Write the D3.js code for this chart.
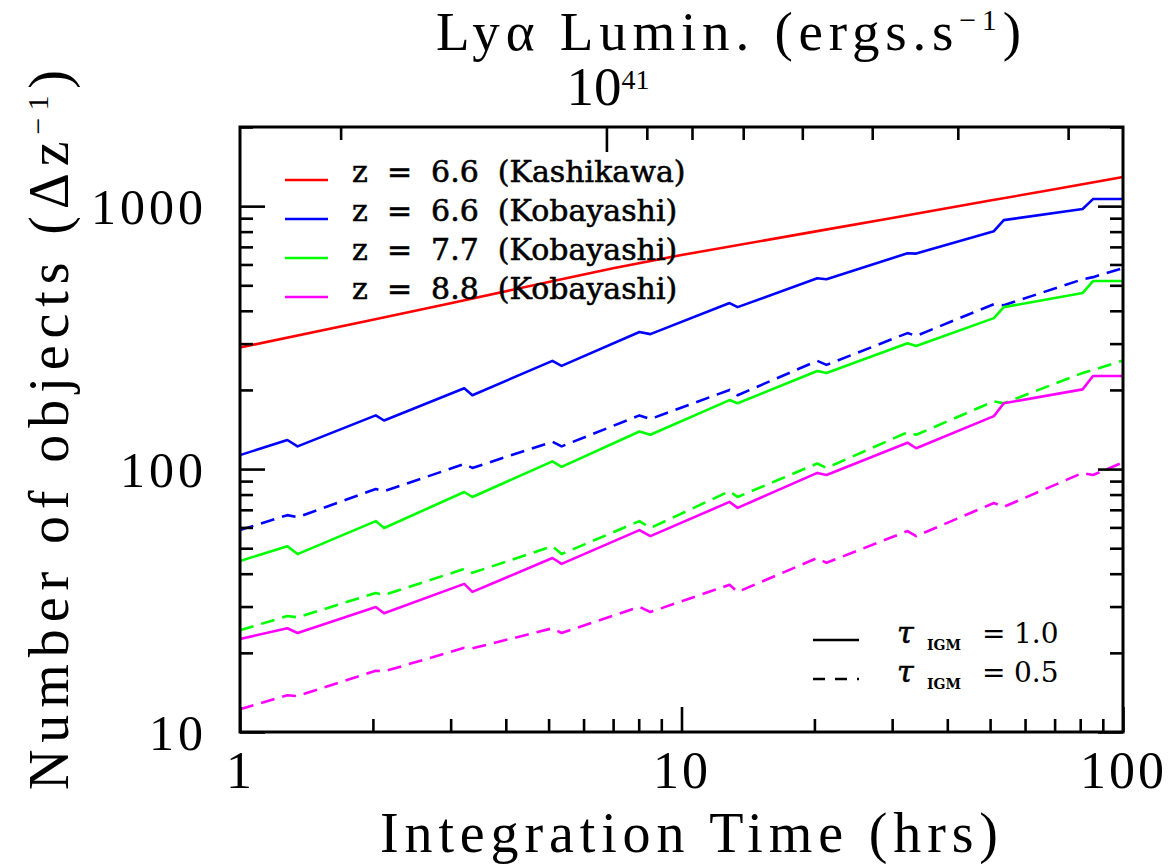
<!DOCTYPE html>
<html>
<head>
<meta charset="utf-8">
<script src="https://cdn.jsdelivr.net/npm/d3@7"></script>
<style>
  body { margin: 0; background: #fff; }
  svg { display: block; }
</style>
</head>
<body>
<svg id="chart" width="1173" height="864"></svg>
<script>
// Integration times (hrs) at which the Kobayashi counts are tabulated
const timeGrid = [1, 1.28, 1.35, 2.03, 2.12, 3.22, 3.36, 5.1, 5.35, 8.03, 8.5,
                  12.85, 13.4, 20.3, 21.3, 32.5, 34, 51, 53.7, 81, 85.5, 100];

// Number of objects per unit redshift, tau_IGM = 1.0 (solid) and 0.5 (dashed)
const kobZ66Tau10 = [113, 129, 122, 160, 153, 203, 191, 258, 247, 332, 326,
                     428, 413, 532, 527, 662, 660, 803, 885, 975, 1064, 1064];
const kobZ66Tau05 = [58.6, 66.8, 65.6, 84, 82.4, 104.5, 101, 127, 122, 160, 155,
                     200, 191, 258, 249, 329, 321, 424, 420, 527, 537, 581];
const kobZ77Tau10 = [44.7, 50.9, 47.5, 63.4, 59.7, 81.8, 78.3, 107, 102, 139, 135,
                     183, 178, 236, 232, 301, 294, 375, 413, 467, 519, 519];
const kobZ77Tau05 = [24.4, 27.6, 27.3, 33.8, 33.2, 41.7, 40.3, 50.9, 47.5, 63.4, 59.7,
                     82.4, 78.3, 105, 101, 138, 135, 181, 178, 232, 238, 259];
const kobZ88Tau10 = [22.6, 24.8, 23.8, 29.9, 28.3, 36.6, 34.1, 45.9, 43.6, 58.6, 55.6,
                     75, 71.2, 96.7, 94.9, 126, 120, 159, 178, 201, 226, 226];
const kobZ88Tau05 = [12.2, 13.8, 13.7, 17.1, 17.0, 20.9, 20.8, 24.8, 23.8, 29.9, 28.6,
                     36.3, 34.1, 45.9, 44, 58.1, 55.6, 74.3, 71.8, 96.7, 94.9, 106];

// Kashikawa z = 6.6 curve
const kashTimes  = [1, 2, 3, 5, 7, 10, 20, 30, 50, 70, 100];
const kashZ66    = [290, 370, 427, 515, 580, 652, 800, 902, 1050, 1159, 1290];

// Legend entries
const legendLabels = ["z  =  6.6  (Kashikawa)", "z  =  6.6  (Kobayashi)",
                      "z  =  7.7  (Kobayashi)", "z  =  8.8  (Kobayashi)"];
const legendColors = ["#ff0000", "#0000ff", "#00ff00", "#ff00ff"];
const tauLabels = ["1.0", "0.5"];

// Axis ticks
const xMajor = [1, 10, 100];
const xMinor = [2, 3, 4, 5, 6, 7, 8, 9, 20, 30, 40, 50, 60, 70, 80, 90];
const yMajor = [10, 100, 1000];
const yMinor = [20, 30, 40, 50, 60, 70, 80, 90, 200, 300, 400, 500, 600, 700, 800, 900, 2000];
const lumDomain = [2.6e41, 2.6e40];
const lumMajor = [1e41];
const lumMinor = [2e41, 9e40, 8e40, 7e40, 6e40, 5e40, 4e40, 3e40];

const svg = d3.select("#chart");
const L = 240, R = 1123, T = 127, B = 732;
const MAJ = 25, MIN = 13;

const x = d3.scaleLog().domain([1, 100]).range([L, R]);
const y = d3.scaleLog().domain([10, 2000]).range([B, T]);
const xLum = d3.scaleLog().domain(lumDomain).range([L, R]);

const serif = "'Liberation Serif', 'Times New Roman', serif";
const legendFont = "'DejaVu Serif', serif";

// ----- data curves -----
const series = [
  { t: kashTimes, v: kashZ66,      color: legendColors[0], dashed: false },
  { t: timeGrid,  v: kobZ66Tau10,  color: legendColors[1], dashed: false },
  { t: timeGrid,  v: kobZ66Tau05,  color: legendColors[1], dashed: true },
  { t: timeGrid,  v: kobZ77Tau10,  color: legendColors[2], dashed: false },
  { t: timeGrid,  v: kobZ77Tau05,  color: legendColors[2], dashed: true },
  { t: timeGrid,  v: kobZ88Tau10,  color: legendColors[3], dashed: false },
  { t: timeGrid,  v: kobZ88Tau05,  color: legendColors[3], dashed: true }
];

const line = d3.line().x(d => x(d[0])).y(d => y(d[1]));
const plot = svg.append("g");
series.forEach(s => {
  plot.append("path")
    .datum(s.t.map((t, i) => [t, s.v[i]]))
    .attr("d", line)
    .attr("fill", "none")
    .attr("stroke", s.color)
    .attr("stroke-width", 2.6)
    .attr("stroke-linejoin", "round")
    .attr("stroke-dasharray", s.dashed ? "14,8" : null);
});

// ----- axes (ticks point inward) -----
function tickStyle(g) {
  g.select(".domain").remove();
  g.selectAll(".tick line").attr("stroke", "#000").attr("stroke-width", 2.6);
}
function noLabels(g) { g.selectAll(".tick text").remove(); }

svg.append("g").attr("transform", `translate(0,${B})`)
  .call(d3.axisBottom(x).tickValues(xMinor).tickSize(-MIN)).call(tickStyle).call(noLabels);
svg.append("g").attr("transform", `translate(0,${B})`)
  .call(d3.axisBottom(x).tickValues(xMajor).tickSize(-MAJ).tickFormat(d3.format("d")))
  .call(tickStyle)
  .call(g => g.selectAll(".tick text")
    .attr("y", 56).attr("dy", null)
    .attr("font-family", serif).attr("font-size", 52)
    .attr("letter-spacing", 3).attr("fill", "#000"));

svg.append("g").attr("transform", `translate(${L},0)`)
  .call(d3.axisLeft(y).tickValues(yMinor).tickSize(-MIN)).call(tickStyle).call(noLabels);
svg.append("g").attr("transform", `translate(${L},0)`)
  .call(d3.axisLeft(y).tickValues(yMajor).tickSize(-MAJ).tickFormat(d3.format("d")))
  .call(tickStyle)
  .call(g => g.selectAll(".tick text")
    .attr("x", -33).attr("dy", "0.35em")
    .attr("font-family", serif).attr("font-size", 50)
    .attr("letter-spacing", 4).attr("fill", "#000"));

svg.append("g").attr("transform", `translate(${R},0)`)
  .call(d3.axisRight(y).tickValues(yMinor).tickSize(-MIN)).call(tickStyle).call(noLabels);
svg.append("g").attr("transform", `translate(${R},0)`)
  .call(d3.axisRight(y).tickValues(yMajor).tickSize(-MAJ)).call(tickStyle).call(noLabels);

svg.append("g").attr("transform", `translate(0,${T})`)
  .call(d3.axisTop(xLum).tickValues(lumMinor).tickSize(-MIN)).call(tickStyle).call(noLabels);
svg.append("g").attr("transform", `translate(0,${T})`)
  .call(d3.axisTop(xLum).tickValues(lumMajor).tickSize(-MAJ)).call(tickStyle).call(noLabels);

// frame
svg.append("rect")
  .attr("x", L).attr("y", T).attr("width", R - L).attr("height", B - T)
  .attr("fill", "none").attr("stroke", "#000").attr("stroke-width", 3);

// helper: spread a label to a given width using letter spacing
function fitWidth(sel, target) {
  const node = sel.node();
  const n = node.getNumberOfChars();
  const w = node.getComputedTextLength();
  if (n > 1) sel.attr("letter-spacing", (target - w) / (n - 1));
}

// ----- top axis label: luminosity -----
const title = svg.append("text")
  .attr("x", 436).attr("y", 50)
  .attr("font-family", serif).attr("font-size", 55).attr("fill", "#000");
title.append("tspan").text("Ly\u03b1 Lumin. (ergs.s");
title.append("tspan").attr("font-size", 30).attr("dy", -20).text("\u22121");
title.append("tspan").attr("dy", 20).text(")");
fitWidth(title, 585);

const lumTick = svg.append("text")
  .attr("x", xLum(lumMajor[0]) - 40).attr("y", 105)
  .attr("font-family", serif).attr("font-size", 55).attr("fill", "#000");
lumTick.append("tspan").text("10");
lumTick.append("tspan").attr("font-size", 28).attr("dy", -16).text("41");

// ----- axis titles -----
const xTitle = svg.append("text")
  .attr("x", 380).attr("y", 852)
  .attr("font-family", serif).attr("font-size", 56).attr("fill", "#000")
  .text("Integration Time (hrs)");
fitWidth(xTitle, 618);

const yTitle = svg.append("text")
  .attr("transform", "translate(68,790) rotate(-90)")
  .attr("font-family", serif).attr("font-size", 56).attr("fill", "#000");
yTitle.append("tspan").text("Number of objects (\u0394z");
yTitle.append("tspan").attr("font-size", 30).attr("dy", -20).text("\u22121");
yTitle.append("tspan").attr("dy", 20).text(")");
fitWidth(yTitle, 720);

// ----- redshift legend -----
const leg = svg.append("g");
legendLabels.forEach((lab, i) => {
  const by = 182 + i * 39;
  leg.append("line")
    .attr("x1", 285).attr("x2", 328).attr("y1", by - 2).attr("y2", by - 2)
    .attr("stroke", legendColors[i]).attr("stroke-width", 2.6);
  leg.append("text")
    .attr("x", 352).attr("y", by)
    .attr("font-family", legendFont).attr("font-size", 30)
    .attr("fill", "#000").attr("stroke", "#000").attr("stroke-width", 0.6)
    .style("white-space", "pre")
    .text(lab);
});

// ----- tau legend -----
const tauG = svg.append("g");
tauLabels.forEach((lab, i) => {
  const by = 643 + i * 39;
  tauG.append("line")
    .attr("x1", 813).attr("x2", 859).attr("y1", by - 3).attr("y2", by - 3)
    .attr("stroke", "#000").attr("stroke-width", 2.4)
    .attr("stroke-dasharray", i === 1 ? "12,10" : null);
  tauG.append("text")
    .attr("x", 897).attr("y", by)
    .attr("font-family", legendFont).attr("font-style", "italic")
    .attr("font-size", 30).attr("fill", "#000")
    .attr("stroke", "#000").attr("stroke-width", 0.6).text("\u03c4");
  tauG.append("text")
    .attr("x", 927).attr("y", by + 7)
    .attr("font-family", legendFont).attr("font-weight", "bold")
    .attr("font-size", 14).attr("fill", "#000").text("IGM");
  tauG.append("text")
    .attr("x", 982).attr("y", by)
    .attr("font-family", legendFont).attr("font-size", 28)
    .attr("fill", "#000").text("=");
  tauG.append("text")
    .attr("x", 1014).attr("y", by)
    .attr("font-family", legendFont).attr("font-size", 28)
    .attr("fill", "#000").text(lab);
});
</script>
</body>
</html>
